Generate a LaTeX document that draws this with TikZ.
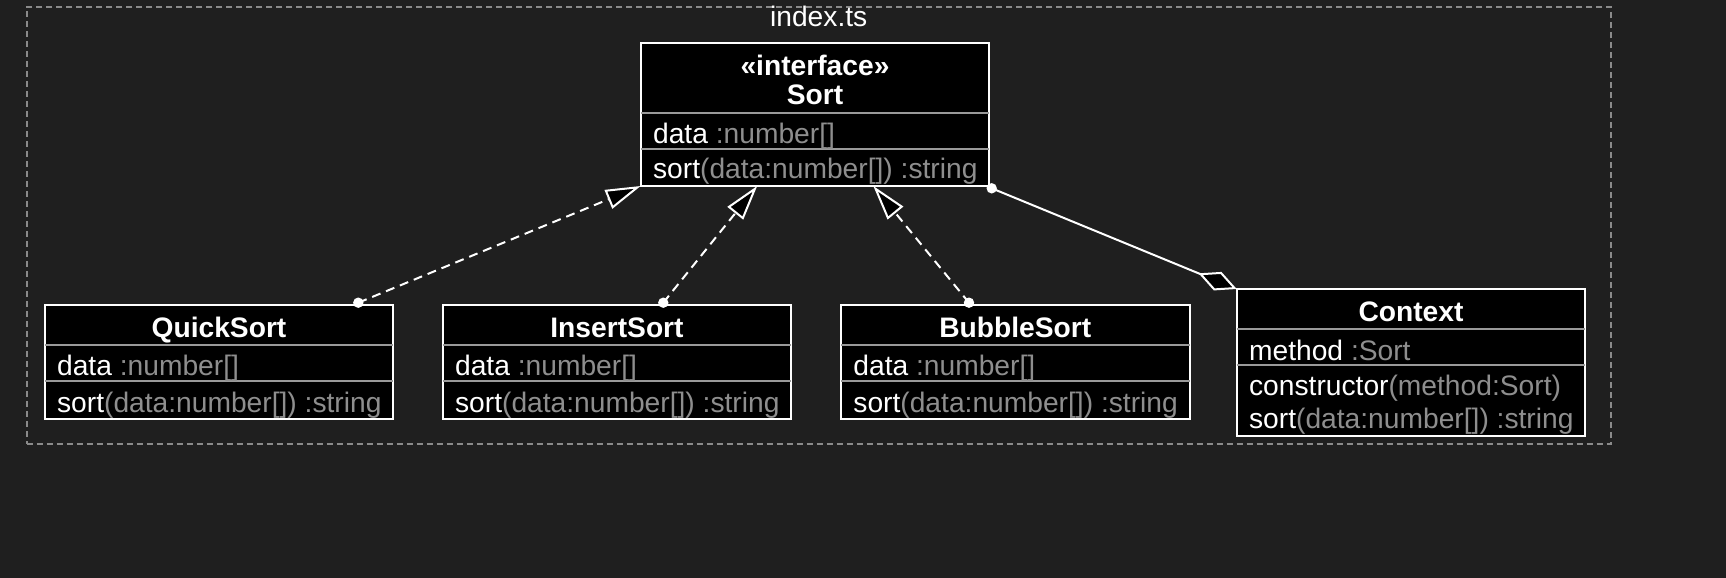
\documentclass[tikz,border=0pt]{standalone}
\usepackage{fontspec}
\setmainfont{Liberation Sans}
\usetikzlibrary{arrows.meta}
\definecolor{bg}{HTML}{1F1F1F}
\definecolor{muted}{HTML}{8E8E8E}
\definecolor{sepc}{HTML}{9A9A9A}
\definecolor{framec}{HTML}{8A8A8A}
\newcommand{\mt}[1]{\textcolor{muted}{#1}}
\begin{document}
\begin{tikzpicture}[x=0.5pt,y=-0.5pt,
  every node/.style={font=\fontsize{14.1}{16}\selectfont, text=white},
  cls/.style={draw=white, fill=black, line width=1pt, minimum width=174.3pt,
    inner sep=0pt, outer sep=0pt, anchor=north west},
  smallcls/.style={cls, minimum height=56.7pt},
  sepline/.style={draw=sepc, line width=1pt},
  member/.style={anchor=base west, inner sep=0pt, yshift=-1pt},
  ctitle/.style={anchor=base, inner sep=0pt, yshift=-1pt, font=\bfseries\fontsize{14.1}{16}\selectfont},
  realize/.style={draw=white, line width=1pt, dash pattern=on 4.5pt off 3pt,
    -{Triangle[fill=black, length=17.5pt, width=10pt]}},
  aggreg/.style={draw=white, line width=1pt,
    -{Diamond[fill=black, length=20.6pt, width=10pt]}},
  enddot/.style={fill=white},
  framebox/.style={draw=framec, line width=0.85pt, dash pattern=on 3pt off 2pt,
    minimum width=792pt, minimum height=218.8pt, inner sep=0pt, outer sep=0pt, anchor=north west}
]
\fill[bg] (0,0) rectangle (1726,578);
\useasboundingbox (0,0) rectangle (1726,578);

% package frame
\node[framebox] (frame) at (26.7,6.7) {};
\node[anchor=base, inner sep=0pt] (frametitle) at ([shift={(0,19.3)}]frame.north) {index.ts};

% Sort interface
\node[cls, minimum height=71.65pt] (sort) at (640.7,42.7) {};
\draw[sepline] ([shift={(0,70)}]sort.north west) -- ([shift={(0,70)}]sort.north east);
\draw[sepline] ([shift={(0,106)}]sort.north west) -- ([shift={(0,106)}]sort.north east);
\node[ctitle] (sortst) at ([shift={(0,30.6)}]sort.north) {«interface»};
\node[ctitle] (sortname) at ([shift={(0,60)}]sort.north) {Sort};
\node[member] (sorta) at ([shift={(12,99)}]sort.north west) {data \mt{:number[]}};
\node[member] (sortm) at ([shift={(12,134)}]sort.north west) {sort\mt{(data:number[]) :string}};

% QuickSort
\node[smallcls] (quick) at (44.7,305.3) {};
\draw[sepline] ([shift={(0,39.7)}]quick.north west) -- ([shift={(0,39.7)}]quick.north east);
\draw[sepline] ([shift={(0,75.7)}]quick.north west) -- ([shift={(0,75.7)}]quick.north east);
\node[ctitle] (quickname) at ([shift={(0,30)}]quick.north) {QuickSort};
\node[member] (quicka) at ([shift={(12,68)}]quick.north west) {data \mt{:number[]}};
\node[member] (quickm) at ([shift={(12,104.7)}]quick.north west) {sort\mt{(data:number[]) :string}};

% InsertSort
\node[smallcls] (insert) at (442.7,305.3) {};
\draw[sepline] ([shift={(0,39.7)}]insert.north west) -- ([shift={(0,39.7)}]insert.north east);
\draw[sepline] ([shift={(0,75.7)}]insert.north west) -- ([shift={(0,75.7)}]insert.north east);
\node[ctitle] (insertname) at ([shift={(0,30)}]insert.north) {InsertSort};
\node[member] (inserta) at ([shift={(12,68)}]insert.north west) {data \mt{:number[]}};
\node[member] (insertm) at ([shift={(12,104.7)}]insert.north west) {sort\mt{(data:number[]) :string}};

% BubbleSort
\node[smallcls] (bubble) at (841,305.3) {};
\draw[sepline] ([shift={(0,39.7)}]bubble.north west) -- ([shift={(0,39.7)}]bubble.north east);
\draw[sepline] ([shift={(0,75.7)}]bubble.north west) -- ([shift={(0,75.7)}]bubble.north east);
\node[ctitle] (bubblename) at ([shift={(0,30)}]bubble.north) {BubbleSort};
\node[member] (bubblea) at ([shift={(12,68)}]bubble.north west) {data \mt{:number[]}};
\node[member] (bubblem) at ([shift={(12,104.7)}]bubble.north west) {sort\mt{(data:number[]) :string}};

% Context
\node[cls, minimum height=73.5pt] (context) at (1236.7,289) {};
\draw[sepline] ([shift={(0,40.3)}]context.north west) -- ([shift={(0,40.3)}]context.north east);
\draw[sepline] ([shift={(0,76)}]context.north west) -- ([shift={(0,76)}]context.north east);
\node[ctitle] (contextname) at ([shift={(0,30.3)}]context.north) {Context};
\node[member] (contexta) at ([shift={(12,69.3)}]context.north west) {method \mt{:Sort}};
\node[member] (contextc) at ([shift={(12,104.3)}]context.north west) {constructor\mt{(method:Sort)}};
\node[member] (contextm) at ([shift={(12,137.7)}]context.north west) {sort\mt{(data:number[]) :string}};

% connector end points
\coordinate (qdot) at ([shift={(313.6,-2.6)}]quick.north west);
\coordinate (idot) at ([shift={(220.6,-2.6)}]insert.north west);
\coordinate (bdot) at ([shift={(128,-2.6)}]bubble.north west);
\coordinate (itip) at ([shift={(116.5,0)}]sort.south west);
\coordinate (btip) at ([shift={(232.6,0)}]sort.south west);
\coordinate (sdot) at ([shift={(2.4,2.3)}]sort.south east);

% realizations
\draw[realize] (qdot) -- (sort.south west);
\draw[realize] (idot) -- (itip);
\draw[realize] (bdot) -- (btip);
\fill[enddot] (qdot) circle (2.6pt);
\fill[enddot] (idot) circle (2.6pt);
\fill[enddot] (bdot) circle (2.6pt);

% aggregation
\draw[aggreg] (sdot) -- (context.north west);
\fill[enddot] (sdot) circle (2.6pt);
\end{tikzpicture}
\end{document}
